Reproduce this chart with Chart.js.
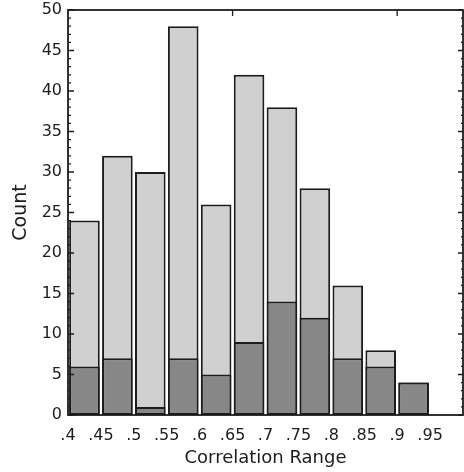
<!DOCTYPE html>
<html>
<head>
<meta charset="utf-8">
<style>
    html, body { margin: 0; padding: 0; background: #fff; }
    #wrap { width: 464px; height: 472px; }
</style>
<script src="https://cdn.jsdelivr.net/npm/chart.js@4/dist/chart.umd.min.js"></script>
</head>
<body>
<div id="wrap"><canvas id="hist"></canvas></div>
<script>
;
(function(window, document) {
    'use strict';

    // bin starts (correlation), counts
    let binStarts = [0.40, 0.45, 0.50, 0.55, 0.60, 0.65, 0.70, 0.75, 0.80, 0.85, 0.90];
    let totalCounts = [24, 32, 30, 48, 26, 42, 38, 28, 16, 8, 4];
    let subsetCounts = [6, 7, 1, 7, 5, 9, 14, 12, 7, 6, 4];
    let xTickLabels = ['.4', '.45', '.5', '.55', '.6', '.65', '.7', '.75', '.8', '.85', '.9', '.95'];
    let binWidth = 0.05;

    let fontFamily = '"DejaVu Sans", sans-serif';
    let ink = '#1c1c1c';

    let points = function(counts) {
        return counts.map(function(c, i) {
            return { x: binStarts[i] + binWidth / 2, y: c };
        });
    };

    // frame + inward tick marks like the original plot
    let framePlugin = {
        id: 'frame',
        afterDatasetsDraw: function(chart) {
            let ctx = chart.ctx;
            let area = chart.chartArea;
            let x = chart.scales.x;
            let y = chart.scales.y;
            ctx.save();
            ctx.strokeStyle = ink;
            ctx.lineWidth = 1.8;
            ctx.strokeRect(area.left, area.top, area.right - area.left, area.bottom - area.top);

            ctx.lineWidth = 1.3;
            ctx.beginPath();
            for (let v = 0; v <= 50; v++) {
                let py = y.getPixelForValue(v);
                let major = v % 5 === 0;
                ctx.moveTo(area.left, py);
                ctx.lineTo(area.left + (major ? 6 : 3), py);
                ctx.moveTo(area.right, py);
                ctx.lineTo(area.right - (major ? 5 : 2), py);
            }
            for (let t = 0.65; t < 1.0; t += 0.25) {
                let px = x.getPixelForValue(t);
                ctx.moveTo(px, area.top);
                ctx.lineTo(px, area.top + 6);
            }
            ctx.stroke();
            ctx.restore();
        }
    };

    let canvas = document.getElementById('hist');

    new Chart(canvas, {
        type: 'bar',
        data: {
            datasets: [
                {
                    label: 'subset',
                    data: points(subsetCounts),
                    backgroundColor: '#878787',
                    borderColor: ink,
                    borderWidth: 2,
                    borderSkipped: false
                },
                {
                    label: 'all',
                    data: points(totalCounts),
                    backgroundColor: '#d0d0d0',
                    borderColor: ink,
                    borderWidth: 2,
                    borderSkipped: false
                }
            ]
        },
        options: {
            responsive: true,
            maintainAspectRatio: false,
            animation: false,
            grouped: false,
            barPercentage: 0.93,
            categoryPercentage: 1,
            layout: { padding: { top: 10, right: 1, left: 0, bottom: 0 } },
            plugins: {
                legend: { display: false },
                tooltip: { enabled: false }
            },
            scales: {
                x: {
                    type: 'linear',
                    offset: false,
                    min: 0.4,
                    max: 1.0,
                    grid: { display: false, drawTicks: false },
                    border: { display: false },
                    afterFit: function(scale) {
                        scale.height = 57;
                        scale.paddingLeft = 0;
                        scale.paddingRight = 0;
                    },
                    afterBuildTicks: function(scale) {
                        scale.ticks = xTickLabels.map(function(l, i) {
                            return { value: binStarts[0] + i * binWidth };
                        });
                    },
                    ticks: {
                        autoSkip: false,
                        maxRotation: 0,
                        padding: 11,
                        color: ink,
                        font: { family: fontFamily, size: 16 },
                        callback: function(value, index) {
                            return xTickLabels[index];
                        }
                    },
                    title: {
                        display: true,
                        text: 'Correlation Range',
                        color: ink,
                        font: { family: fontFamily, size: 18 },
                        padding: { top: 0, bottom: 3 }
                    }
                },
                y: {
                    min: 0,
                    max: 50,
                    grid: { display: false, drawTicks: false },
                    border: { display: false },
                    afterFit: function(scale) {
                        scale.width = 68;
                        scale.paddingTop = 0;
                        scale.paddingBottom = 0;
                    },
                    ticks: {
                        stepSize: 5,
                        padding: 6,
                        color: ink,
                        font: { family: fontFamily, size: 16 }
                    },
                    title: {
                        display: true,
                        text: 'Count',
                        color: ink,
                        font: { family: fontFamily, size: 19 },
                        padding: { top: 10, bottom: 0 }
                    }
                }
            }
        },
        plugins: [framePlugin]
    });

})(window, document);
</script>
</body>
</html>
